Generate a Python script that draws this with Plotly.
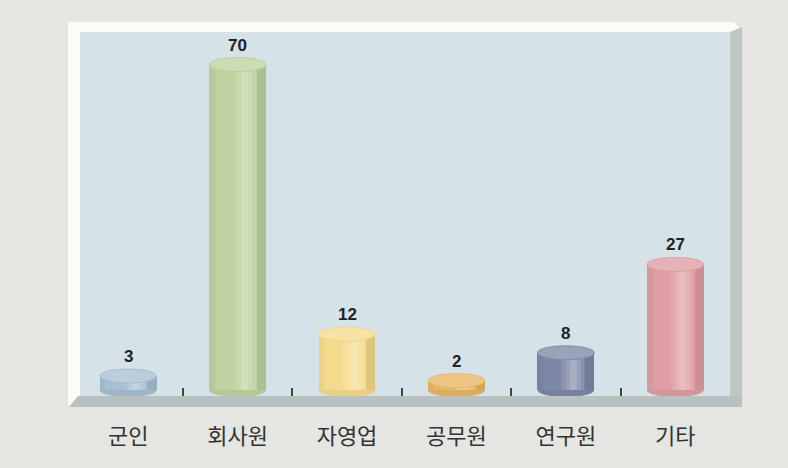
import plotly.graph_objects as go

categories = ["군인", "회사원", "자영업", "공무원", "연구원", "기타"]
values = [3, 70, 12, 2, 8, 27]
base_colors = ["#a8bed2", "#bdd29e", "#f5da8c", "#e8b664", "#7d88a6", "#de9ea3"]

W, H = 788, 468
L, R, T, B = 80, 58, 32, 72
PW, PH = W - L - R, H - T - B


def px(x):
    return (x - L) / PW


def py(y):
    return (H - B - y) / PH


def hex2rgb(h):
    h = h.lstrip("#")
    return [int(h[i:i + 2], 16) for i in (0, 2, 4)]


def mix(h, t, amt):
    a = hex2rgb(h)
    b = hex2rgb(t)
    c = [round(a[i] + (b[i] - a[i]) * amt) for i in range(3)]
    return "#%02x%02x%02x" % tuple(c)


bar_w = 0.52
fig = go.Figure()

# cylinder body built from overlaid bars (base + soft shading bands)
layers = [
    (0.0, 1.0, "#000000", 0.0),
    (0.0, 0.10, "#000000", 0.04),
    (0.84, 0.16, "#000000", 0.09),
    (0.42, 0.40, "#ffffff", 0.10),
    (0.50, 0.26, "#ffffff", 0.20),
    (0.57, 0.12, "#ffffff", 0.32),
]
for start, frac, tgt, amt in layers:
    fig.add_trace(go.Bar(
        x=categories, y=values,
        width=[bar_w * frac] * len(values),
        offset=[-bar_w / 2 + start * bar_w] * len(values),
        marker=dict(color=[mix(c, tgt, amt) for c in base_colors], line=dict(width=0)),
        hoverinfo="skip", showlegend=False,
    ))

shapes = []
# frame decoration (paper coords)
shapes.append(dict(type="path", xref="paper", yref="paper", layer="below",
                   path=f"M {px(68)} {py(22)} L {px(734)} {py(22)} L {px(742)} {py(30)} L {px(742)} {py(407)} "
                        f"L {px(70)} {py(407)} L {px(68)} {py(405)} Z",
                   fillcolor="#fbfcf8", line=dict(width=0)))
shapes.append(dict(type="path", xref="paper", yref="paper", layer="below",
                   path=f"M {px(730)} {py(32)} L {px(742)} {py(27)} L {px(742)} {py(407)} L {px(730)} {py(396)} Z",
                   fillcolor="#bfc6c6", line=dict(width=0)))
shapes.append(dict(type="path", xref="paper", yref="paper", layer="below",
                   path=f"M {px(78)} {py(396)} L {px(742)} {py(396)} L {px(742)} {py(407)} L {px(69)} {py(407)} Z",
                   fillcolor="#b9c0c0", line=dict(width=0)))
shapes.append(dict(type="rect", xref="paper", yref="paper", layer="below",
                   x0=0, x1=1, y0=0, y1=1, fillcolor="#d5e2e7", line=dict(width=0)))

ry = 7
for i, (v, c) in enumerate(zip(values, base_colors)):
    # bottom rounded end
    shapes.append(dict(type="circle", xref="x", yref="y", layer="below",
                       x0=i - bar_w / 2, x1=i + bar_w / 2,
                       ysizemode="pixel", yanchor=0, y0=-ry, y1=ry,
                       fillcolor=mix(c, "#000000", 0.05), line=dict(width=0)))
    # top ellipse
    shapes.append(dict(type="circle", xref="x", yref="y", layer="above",
                       x0=i - bar_w / 2, x1=i + bar_w / 2,
                       ysizemode="pixel", yanchor=v, y0=-ry, y1=ry,
                       fillcolor=mix(c, "#ffffff", 0.22),
                       line=dict(width=0.8, color=mix(c, "#000000", 0.03))))

annotations = []
for cat, v in zip(categories, values):
    annotations.append(dict(x=cat, y=v, xref="x", yref="y", text=f"<b>{v}</b>",
                            showarrow=False, yanchor="bottom", yshift=ry + 1,
                            font=dict(family="Liberation Sans, Arial, sans-serif", size=17, color="#222222")))

fig.update_layout(
    width=W, height=H,
    margin=dict(l=L, r=R, t=T, b=B),
    paper_bgcolor="#e5e5e2",
    plot_bgcolor="rgba(0,0,0,0)",
    barmode="overlay",
    bargap=0,
    shapes=shapes,
    annotations=annotations,
    xaxis=dict(
        type="category", range=[-0.44, 5.5],
        showgrid=False, showline=False, zeroline=False,
        ticks="inside", tickson="boundaries", ticklen=8, tickwidth=1.5, tickcolor="#444444",
        ticklabelstandoff=25,
        tickfont=dict(family="Noto Sans CJK KR", size=22, color="#333333"),
        fixedrange=True,
    ),
    yaxis=dict(range=[-1.3, 77], visible=False, showgrid=False, zeroline=False, fixedrange=True),
    font=dict(family="Noto Sans CJK KR"),
)

fig.write_html("out.html")
